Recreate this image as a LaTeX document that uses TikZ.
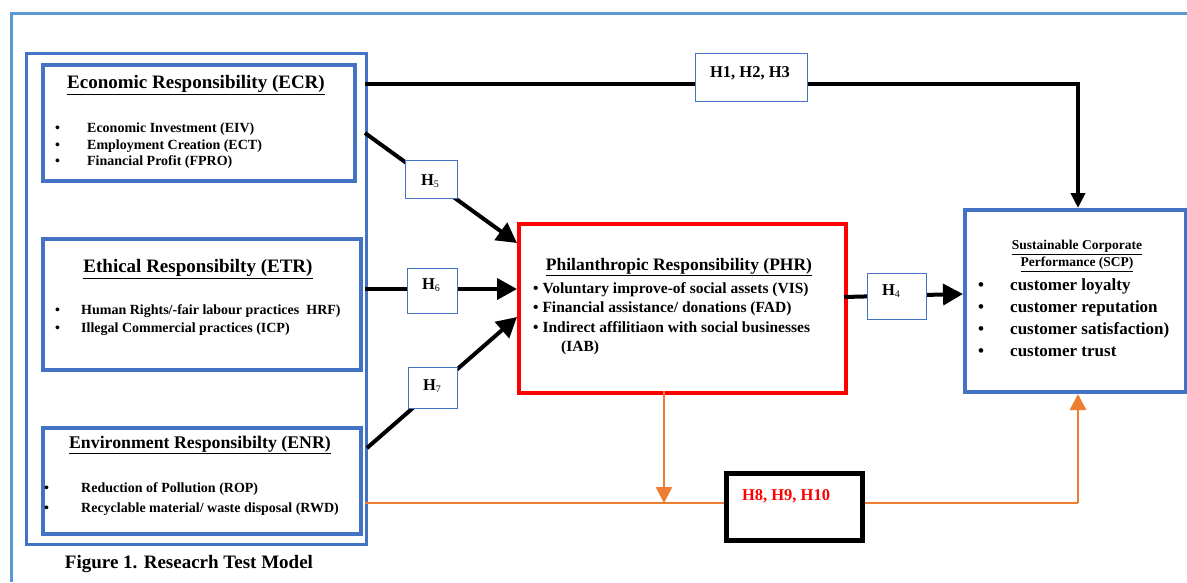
\documentclass[tikz,border=0pt]{standalone}
\usepackage{fontspec}
\setmainfont{Liberation Serif}
\usetikzlibrary{arrows.meta,calc}
\definecolor{frameblue}{RGB}{91,155,213}
\definecolor{boxblue}{RGB}{68,114,196}
\definecolor{orng}{RGB}{237,125,49}
\definecolor{redb}{RGB}{255,0,0}
\begin{document}
\begin{tikzpicture}[x=1pt,y=-1pt,
  box/.style={draw=boxblue,line width=4pt,inner sep=0pt,anchor=north west},
  hbox/.style={draw=boxblue,line width=1.3pt,fill=white,inner sep=0pt,anchor=north west},
  ttl/.style={font=\bfseries\fontsize{19}{21}\selectfont,inner sep=0pt},
  items/.style={font=\bfseries\fontsize{14}{16.5}\selectfont,align=left,inner sep=0pt,anchor=north west},
  hlab/.style={font=\bfseries\fontsize{16.5}{18}\selectfont,inner sep=0pt},
  conn/.style={line width=4pt,black},
  arr/.style={conn,-{Triangle[length=20pt,width=21pt]}},
  oconn/.style={orng,line width=2.5pt},
  oarr/.style={oconn,-{Triangle[length=16pt,width=16pt]}}]
\useasboundingbox (0,0) rectangle (1187,582);
\fill[white] (0,0) rectangle (1187,582);
% outer frame
\draw[frameblue,line width=3pt] (11,582) -- (11,13) -- (1187,13);
% main boxes
\node[box,line width=3pt,minimum width=340pt,minimum height=491pt] (cont) at (25,52) {};
\node[box,minimum width=312pt,minimum height=116pt] (ecr) at (41,63) {};
\node[box,minimum width=318pt,minimum height=131pt] (etr) at (41,237) {};
\node[box,minimum width=318pt,minimum height=106pt] (enr) at (41,426) {};
\node[box,draw=redb,minimum width=327pt,minimum height=169pt] (phr) at (517,222) {};
\node[box,minimum width=221pt,minimum height=182pt] (scp) at (963,208) {};
\node[box,draw=black,line width=5pt,minimum width=136pt,minimum height=67pt] (h8) at (724,471) {};
% connector end points
\coordinate (c1) at (365,84);
\coordinate (t1) at (1078,84);
\coordinate (c5) at (365,133);
\coordinate (p5) at (517,243);
\coordinate (c6) at (365,289);
\coordinate (c7) at (367,448);
\coordinate (p7) at (517,317);
\coordinate (p4) at (844,297);
\coordinate (s4) at (963,294);
\coordinate (o1) at (365,503);
\coordinate (od) at (664,391);
\coordinate (or) at (1078,503);
% connectors
\draw[conn,-{Triangle[length=15pt,width=14pt]}] (c1) -- (t1) -- (t1 |- scp.north);
\draw[arr] (c5) -- (p5);
\draw[arr] (c6) -- (c6 -| phr.west);
\draw[arr] (c7) -- (p7);
\draw[arr] (p4) -- (s4);
\draw[oconn] (o1) -- (o1 -| h8.west);
\draw[oarr] (od) -- (od |- o1);
\draw[oconn] (h8.east |- o1) -- (or);
\draw[oarr] (or) -- (or |- scp.south);
% hypothesis boxes
\node[hbox,minimum width=112pt,minimum height=48pt] (h123) at (695,53) {};
\node[hbox,minimum width=52pt,minimum height=38pt] (h5) at (405,160) {};
\node[hbox,minimum width=50pt,minimum height=45pt] (h6) at (407,268) {};
\node[hbox,minimum width=49pt,minimum height=41pt] (h7) at (408,367) {};
\node[hbox,minimum width=59pt,minimum height=46pt] (h4) at (867,273) {};
\node[hlab] (h123t) at (750,73) {H1, H2, H3};
\node[hlab] (h5t) at (430,181) {H\raisebox{-2pt}{\mdseries\fontsize{10}{10}\selectfont 5}};
\node[hlab] (h6t) at (431,285) {H\raisebox{-2pt}{\mdseries\fontsize{10}{10}\selectfont 6}};
\node[hlab] (h7t) at (432,386) {H\raisebox{-2pt}{\mdseries\fontsize{10}{10}\selectfont 7}};
\node[hlab] (h4t) at (891,291) {H\raisebox{-2pt}{\mdseries\fontsize{10}{10}\selectfont 4}};
\node[hlab,text=redb] (h8t) at (786,496) {H8, H9, H10};
% ECR text
\node[ttl] (ecrt) at (196,85) {\underline{Economic Responsibility (ECR)}};
\node[items] (ecri) at (55,123) {\makebox[32pt][l]{•}Economic Investment (EIV)\\\makebox[32pt][l]{•}Employment Creation (ECT)\\\makebox[32pt][l]{•}Financial Profit (FPRO)};
% ETR text
\node[ttl] (etrt) at (198,269) {\underline{Ethical Responsibilty (ETR)}};
\node[items,font=\bfseries\fontsize{14}{18}\selectfont] (etri) at (55,304) {\makebox[26pt][l]{•}Human Rights/-fair labour practices\ \ HRF)\\\makebox[26pt][l]{•}Illegal Commercial practices (ICP)};
% ENR text
\node[ttl,font=\bfseries\fontsize{17.8}{20}\selectfont] (enrt) at (200,445) {\underline{Environment Responsibilty (ENR)}};
\node[items,font=\bfseries\fontsize{14}{20}\selectfont] (enri) at (44,482) {\makebox[37pt][l]{•}Reduction of Pollution (ROP)\\\makebox[37pt][l]{•}Recyclable material/ waste disposal (RWD)};
% PHR text
\node[ttl,font=\bfseries\fontsize{17.5}{20}\selectfont] (phrt) at (679,267) {\underline{Philanthropic Responsibility (PHR)}};
\node[items,font=\bfseries\fontsize{15.5}{19.5}\selectfont] (phri) at (533,282) {• Voluntary improve-of social assets (VIS)\\• Financial assistance/ donations (FAD)\\• Indirect affilitiaon with social businesses\\\hspace*{28pt}(IAB)};
% SCP text
\node[ttl,font=\bfseries\fontsize{13.5}{17}\selectfont,align=center] (scpt) at (1077,256) {\underline{Sustainable Corporate}\\\underline{Performance (SCP)}};
\node[items,font=\bfseries\fontsize{17}{22}\selectfont] (scpi) at (978,278) {\makebox[32pt][l]{•}customer loyalty\\\makebox[32pt][l]{•}customer reputation\\\makebox[32pt][l]{•}customer satisfaction)\\\makebox[32pt][l]{•}customer trust};
% caption
\node[font=\bfseries\fontsize{19}{21}\selectfont,inner sep=0pt] (cap) at (189,564) {Figure 1. Reseacrh Test Model};
\end{tikzpicture}
\end{document}
